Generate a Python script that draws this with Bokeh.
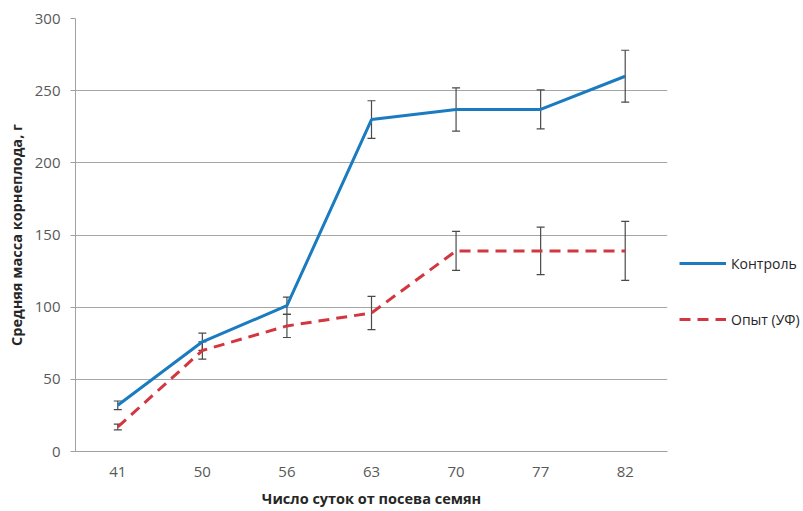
from bokeh.plotting import figure
from bokeh.models import ColumnDataSource, Range1d, Whisker, TeeHead, Legend, LegendItem, FactorRange
from bokeh.embed import file_html
from bokeh.resources import INLINE

days = ["41", "50", "56", "63", "70", "77", "82"]
control = [32, 76, 101, 230, 237, 237, 260]
control_err = [3, 6, 6, 13, 15, 13.5, 18]
uv = [17, 70, 87, 96, 139, 139, 139]
uv_err = [2, 6, 8, 11.5, 13.5, 16.5, 20.5]

FONT = "Open Sans"

src_c = ColumnDataSource(dict(x=days, y=control,
                              lo=[v - e for v, e in zip(control, control_err)],
                              hi=[v + e for v, e in zip(control, control_err)]))
src_u = ColumnDataSource(dict(x=days, y=uv,
                              lo=[v - e for v, e in zip(uv, uv_err)],
                              hi=[v + e for v, e in zip(uv, uv_err)]))

p = figure(frame_width=592, frame_height=433, x_range=FactorRange(*days), y_range=Range1d(0, 300),
           output_backend="svg", toolbar_location=None,
           min_border_left=75, min_border_right=120, min_border_top=18, min_border_bottom=58)
p.outline_line_color = None
p.background_fill_color = "white"
p.border_fill_color = "white"
p.x_range.range_padding = 0

p.xgrid.grid_line_color = None
p.ygrid.grid_line_color = "#a6a6a6"
p.ygrid.grid_line_width = 1

p.yaxis.ticker = [0, 50, 100, 150, 200, 250, 300]
for ax in (p.xaxis[0], p.yaxis[0]):
    ax.axis_line_color = "#a0a0a0"
    ax.major_tick_line_color = "#a0a0a0"
    ax.minor_tick_line_color = None
    ax.major_label_text_font = FONT
    ax.major_label_text_font_size = "15px"
    ax.major_label_text_color = "#595959"
    ax.axis_label_text_font = FONT
    ax.axis_label_text_font_style = "bold"
    ax.axis_label_text_font_size = "14.5px"
    ax.axis_label_text_color = "#262626"

p.yaxis.major_tick_out = 5
p.yaxis.major_tick_in = 0
p.yaxis.major_label_standoff = 10
p.yaxis.axis_label = "Средняя масса корнеплода, г"
p.yaxis.axis_label_standoff = 6

p.xaxis.major_tick_out = 0
p.xaxis.major_tick_in = 0
p.xaxis.major_label_standoff = 15
p.xaxis.axis_label = "Число суток от посева семян"
p.xaxis.axis_label_standoff = 9

l_c = p.line("x", "y", source=src_c, line_color="#1b7bc0", line_width=3)
l_u = p.line("x", "y", source=src_u, line_color="#d2363f", line_width=3, line_dash="11 7")

for src in (src_c, src_u):
    w = Whisker(source=src, base="x", lower="lo", upper="hi",
                line_color="#4a4a4a", line_width=1.2,
                upper_head=TeeHead(size=8, line_color="#4a4a4a", line_width=1.2),
                lower_head=TeeHead(size=8, line_color="#4a4a4a", line_width=1.2))
    p.add_layout(w)

legend = Legend(items=[LegendItem(label="Контроль", renderers=[l_c]),
                       LegendItem(label="Опыт (УФ)", renderers=[l_u])],
                location=(12, 122), orientation="vertical",
                glyph_width=47, glyph_height=20, label_height=20, spacing=36,
                label_standoff=5, padding=0, margin=0,
                label_text_font=FONT, label_text_font_size="14px", label_text_color="#262626",
                border_line_color=None, background_fill_alpha=0)
p.add_layout(legend, "right")

open("out.html", "w").write(file_html(p, INLINE))
